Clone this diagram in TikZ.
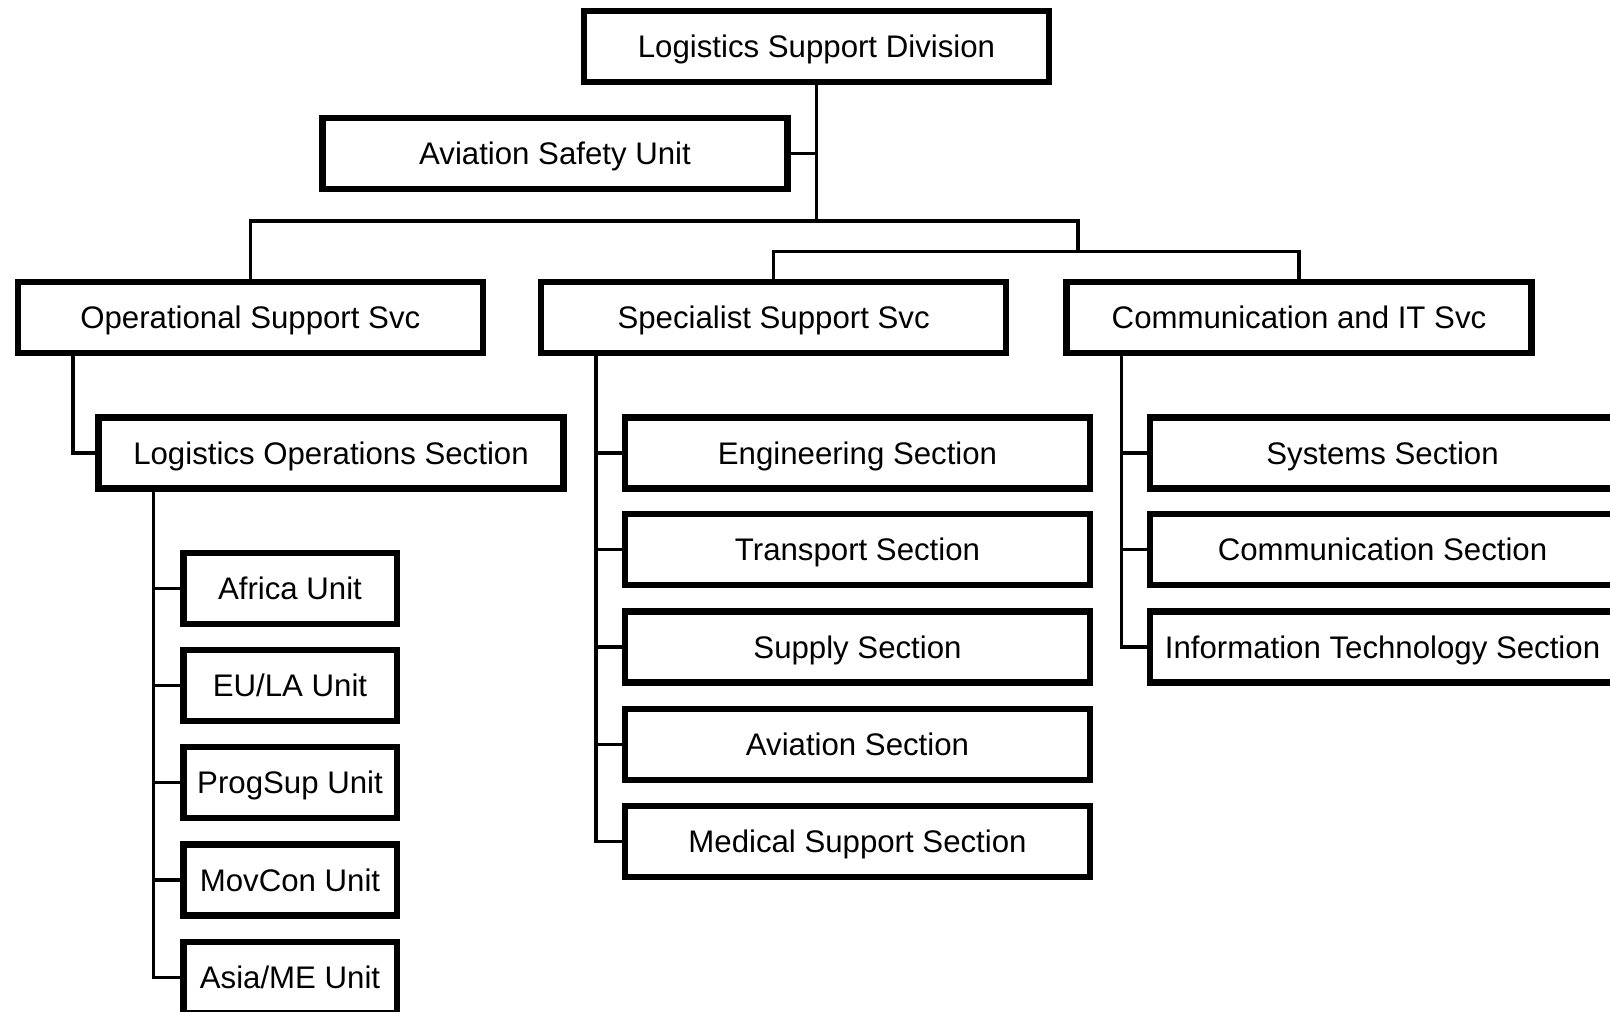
\documentclass[tikz,border=0pt]{standalone}
\usepackage{fontspec}
\setmainfont{Liberation Sans}
\begin{document}
\begin{tikzpicture}[x=0.5pt,y=-0.5pt,
  box/.style={draw=black, line width=3.25pt, fill=white, inner sep=0pt, outer sep=0pt,
    minimum height=35.5pt, text height=11.2pt, text depth=0pt,
    font=\fontsize{15.6pt}{18pt}\selectfont},
  wide/.style={box, minimum width=232.5pt},
  unit/.style={box, minimum width=106.75pt},
  link/.style={draw=black, line width=1.75pt}]
\clip (0,0) rectangle (1610,1011);
\fill[white] (0,0) rectangle (1610,1011);

% top of the division
\node[wide] (lsd) at (816.5,46.3) {Logistics Support Division};
\node[wide] (asu) at (555,153.7) {Aviation Safety Unit};

% services
\node[wide] (ops)  at (250.3,317.5) {Operational Support Svc};
\node[wide] (spec) at (773.6,317.5) {Specialist Support Svc};
\node[wide] (cit)  at (1299,317.5)  {Communication and IT Svc};

% sections
\node[wide] (lops) at (331,453) {Logistics Operations Section};
\node[wide] (eng)  at (857.5,453)   {Engineering Section};
\node[wide] (trn)  at (857.5,549.7) {Transport Section};
\node[wide] (sup)  at (857.5,647.2) {Supply Section};
\node[wide] (avi)  at (857.5,744.7) {Aviation Section};
\node[wide] (med)  at (857.5,841.7) {Medical Support Section};
\node[wide] (sys)  at (1382.5,453)   {Systems Section};
\node[wide] (coms) at (1382.5,549.7) {Communication Section};
\node[wide] (its)  at (1382.5,647.2) {Information Technology Section};

% units
\node[unit] (afr)  at (290,588.3) {Africa Unit};
\node[unit] (eula) at (290,685.7) {EU/LA Unit};
\node[unit] (prog) at (290,782.7) {ProgSup Unit};
\node[unit] (mov)  at (290,880)   {MovCon Unit};
\node[unit] (asia) at (290,977.5) {Asia/ME Unit};

% junctions of the upper buses
\coordinate (j1) at (1078,221);
\coordinate (j2) at (1078,251.7);

\draw[link] (lsd.south) -- (lsd.south |- j1);
\draw[link] (asu.east) -- (asu.east -| lsd.south);
\draw[link] (ops.north) |- (j1) -- (j2);
\draw[link] (spec.north) |- (j2);
\draw[link] (cit.north) |- (j2);

% trunks below each box
\coordinate (opsT)  at ([xshift=27.5pt]ops.south west);
\coordinate (specT) at ([xshift=27.5pt]spec.south west);
\coordinate (citT)  at ([xshift=27.5pt]cit.south west);
\coordinate (lopsT) at ([xshift=27.5pt]lops.south west);

\draw[link] (opsT) |- (lops.west);
\draw[link] (specT) |- (med.west);
\foreach \n in {eng,trn,sup,avi} \draw[link] (\n.west) -- (\n.west -| specT);
\draw[link] (citT) |- (its.west);
\foreach \n in {sys,coms} \draw[link] (\n.west) -- (\n.west -| citT);
\draw[link] (lopsT) |- (asia.west);
\foreach \n in {afr,eula,prog,mov} \draw[link] (\n.west) -- (\n.west -| lopsT);
\end{tikzpicture}
\end{document}
